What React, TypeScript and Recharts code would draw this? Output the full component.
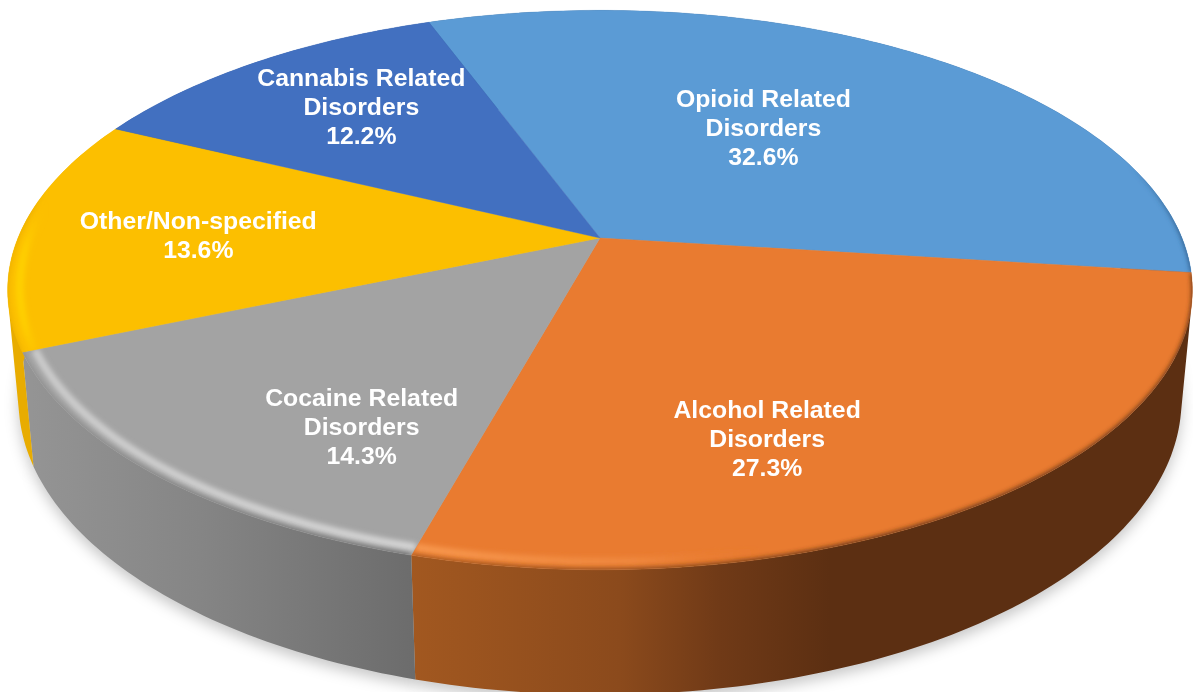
import React from "react";
import { PieChart, Pie } from "recharts";

// ---- data ----
const categories = [
  "Opioid Related Disorders",
  "Alcohol Related Disorders",
  "Cocaine Related Disorders",
  "Other/Non-specified",
  "Cannabis Related Disorders",
];
const shares = [32.6, 27.3, 14.3, 13.6, 12.2];
const labelLines = [
  ["Opioid Related", "Disorders"],
  ["Alcohol Related", "Disorders"],
  ["Cocaine Related", "Disorders"],
  ["Other/Non-specified"],
  ["Cannabis Related", "Disorders"],
];
const tableData = categories.map((name, i) => ({ name, value: shares[i] }));

// ---- style ----
const W = 1193;
const H = 692;
const CX = 600;
const CY = 238;
const RX = 582;
const START = 110.2;
const faceColors = ["#5B9BD5", "#E97B30", "#A3A3A3", "#FCBF00", "#4270C0"];
type Stop = [number, string, number?];
const wallStops: Stop[][] = [
  [[1100, "#2E5C8A"], [1193, "#2E5C8A"]],
  [[410, "#A25820"], [620, "#8B4A1C"], [720, "#703A17"], [830, "#5C2F12"], [1193, "#5C2F12"]],
  [[20, "#959595"], [200, "#858585"], [415, "#6C6C6C"]],
  [[0, "#E8AC00"], [40, "#E8AC00"]],
  [[0, "#2F5597"], [1193, "#2F5597"]],
];
const bandStops: Stop[][] = [
  [[0, "#5B9BD5", 0], [1193, "#5B9BD5", 0]],
  [[410, "#F8984E", 1], [640, "#F08A40", 0.8], [760, "#E97B30", 0]],
  [[20, "#CBCBCB", 1], [415, "#D4D4D4", 1]],
  [[5, "#FFD800", 1], [25, "#FFD000", 0.9], [45, "#FCBF00", 0]],
  [[0, "#4270C0", 0], [1193, "#4270C0", 0]],
];
const edgeStops: Stop[][] = [
  [[1130, "#2E5C8A", 0], [1185, "#2E5C8A", 1]],
  [[410, "#A25820", 1], [620, "#8B4A1C", 1], [830, "#5C2F12", 1], [1193, "#5C2F12", 1]],
  [[20, "#8C8C8C", 1], [415, "#6C6C6C", 1]],
  [[0, "#E8AC00", 0.8], [30, "#E8AC00", 0.8], [45, "#E8AC00", 0]],
  [[0, "#4270C0", 0], [1193, "#4270C0", 0]],
];
const labelNudge = [
  [-21, -3],
  [-27, 65],
  [-10, 67],
  [-82.5, 0],
  [-39, -30],
];

// ---- perspective projection of the pie's disc ----
const TILT = 0.186;
const FLAT = 270 / 582;
const DEPTH_W = 0.018;
const DEPTH_Y = 110;

const topPoint = (a: number, r: number, cx: number, cy: number, R: number) => {
  const t = (a * Math.PI) / 180;
  const u = r * Math.cos(t);
  const v = r * Math.sin(t);
  const w = 1 + TILT * v;
  return [cx + (R * u) / w, cy - (R * FLAT * v) / w];
};
const lowPoint = (a: number, cx: number, cy: number, R: number) => {
  const t = (a * Math.PI) / 180;
  const u = Math.cos(t);
  const v = Math.sin(t);
  const w = 1 + TILT * v + DEPTH_W;
  return [cx + (R * u) / w, cy + (DEPTH_Y - R * FLAT * v) / w];
};
const sweep = (start: number, end: number) => {
  const n = Math.max(2, Math.ceil(Math.abs(end - start)));
  return Array.from({ length: n + 1 }, (_, i) => start + ((end - start) * i) / n);
};
const line = (pts: number[][]) =>
  pts.map((p, i) => `${i ? "L" : "M"}${p[0].toFixed(2)} ${p[1].toFixed(2)}`).join("");

// ---- custom sector shapes ----
const ShadowShape = (p: any) => {
  const pts = sweep(p.startAngle, p.endAngle).map((a) => lowPoint(a, p.cx, p.cy, p.outerRadius));
  return (
    <path
      d={line(pts) + `L${p.cx} ${p.cy + DEPTH_Y}Z`}
      fill="#000"
      fillOpacity={0.22}
      transform="translate(0 6)"
      filter="url(#softShadow)"
    />
  );
};

const WallShape = (p: any) => {
  const angles = sweep(p.startAngle, p.endAngle);
  let d = "";
  for (let i = 0; i < angles.length - 1; i++) {
    const q = [
      topPoint(angles[i], 1, p.cx, p.cy, p.outerRadius),
      topPoint(angles[i + 1], 1, p.cx, p.cy, p.outerRadius),
      lowPoint(angles[i + 1], p.cx, p.cy, p.outerRadius),
      lowPoint(angles[i], p.cx, p.cy, p.outerRadius),
    ];
    let area = 0;
    q.forEach((a, j) => {
      const b = q[(j + 1) % 4];
      area += a[0] * b[1] - b[0] * a[1];
    });
    if (area < 0) q.reverse();
    d += line(q) + "Z";
  }
  return <path d={d} fill={`url(#wall-${p.index})`} stroke="none" />;
};

const TopShape = (p: any) => {
  const angles = sweep(p.startAngle, p.endAngle);
  const rim = (r: number) => line(angles.map((a) => topPoint(a, r, p.cx, p.cy, p.outerRadius)));
  const wedge = rim(1) + `L${p.cx} ${p.cy}Z`;
  return (
    <g>
      <clipPath id={`clip-${p.index}`}>
        <path d={wedge} />
      </clipPath>
      <path d={wedge} fill={faceColors[p.index]} stroke={faceColors[p.index]} strokeWidth={0.4} />
      <g clipPath={`url(#clip-${p.index})`}>
        <path d={rim(0.98)} fill="none" stroke={`url(#band-${p.index})`} strokeWidth={8} filter="url(#softEdge)" />
        <path d={rim(1.004)} fill="none" stroke={`url(#edge-${p.index})`} strokeWidth={6} filter="url(#softEdge)" />
      </g>
    </g>
  );
};

const renderLabel = (p: any) => {
  const [bx, by] = topPoint(p.midAngle, 0.55, p.cx, p.cy, p.outerRadius);
  const x = bx + labelNudge[p.index][0];
  const lines = [...labelLines[p.index], `${shares[p.index]}%`];
  const y = by + labelNudge[p.index][1] - ((lines.length - 1) * 29) / 2;
  return (
    <text
      x={x}
      y={y}
      textAnchor="middle"
      fill="#FFFFFF"
      fontFamily="'Liberation Sans', Arial, sans-serif"
      fontWeight={700}
      fontSize={24.8}
      dominantBaseline="central"
    >
      {lines.map((t, i) => (
        <tspan key={i} x={x} y={y + i * 29}>
          {t}
        </tspan>
      ))}
    </text>
  );
};

const Gradient = ({ id, stops }: { id: string; stops: Stop[] }) => (
  <linearGradient id={id} gradientUnits="userSpaceOnUse" x1={0} y1={0} x2={W} y2={0}>
    {stops.map((s, i) => (
      <stop key={i} offset={s[0] / W} stopColor={s[1]} stopOpacity={s[2] ?? 1} />
    ))}
  </linearGradient>
);

export default function App() {
  const pieProps = {
    data: tableData,
    dataKey: "value",
    nameKey: "name",
    cx: CX,
    cy: CY,
    innerRadius: 0,
    outerRadius: RX,
    startAngle: START,
    endAngle: START - 360,
    stroke: "none",
    isAnimationActive: false,
    labelLine: false,
  };
  return (
    <div style={{ position: "absolute", left: 0, top: 0, width: W, height: H, overflow: "hidden", background: "#fff", filter: "blur(0.5px)" }}>
      <PieChart width={W} height={H} margin={{ top: 0, right: 0, bottom: 0, left: 0 }}>
        <defs>
          <filter id="softShadow" x="-10%" y="-10%" width="120%" height="130%">
            <feGaussianBlur stdDeviation="7" />
          </filter>
          <filter id="softEdge" filterUnits="userSpaceOnUse" x={0} y={0} width={W} height={H}>
            <feGaussianBlur stdDeviation="2.4" />
          </filter>
          {categories.map((_, i) => (
            <React.Fragment key={i}>
              <Gradient id={`wall-${i}`} stops={wallStops[i]} />
              <Gradient id={`band-${i}`} stops={bandStops[i]} />
              <Gradient id={`edge-${i}`} stops={edgeStops[i]} />
            </React.Fragment>
          ))}
        </defs>
        <Pie {...pieProps} shape={ShadowShape} />
        <Pie {...pieProps} shape={WallShape} />
        <Pie {...pieProps} shape={TopShape} label={renderLabel} />
      </PieChart>
    </div>
  );
}
